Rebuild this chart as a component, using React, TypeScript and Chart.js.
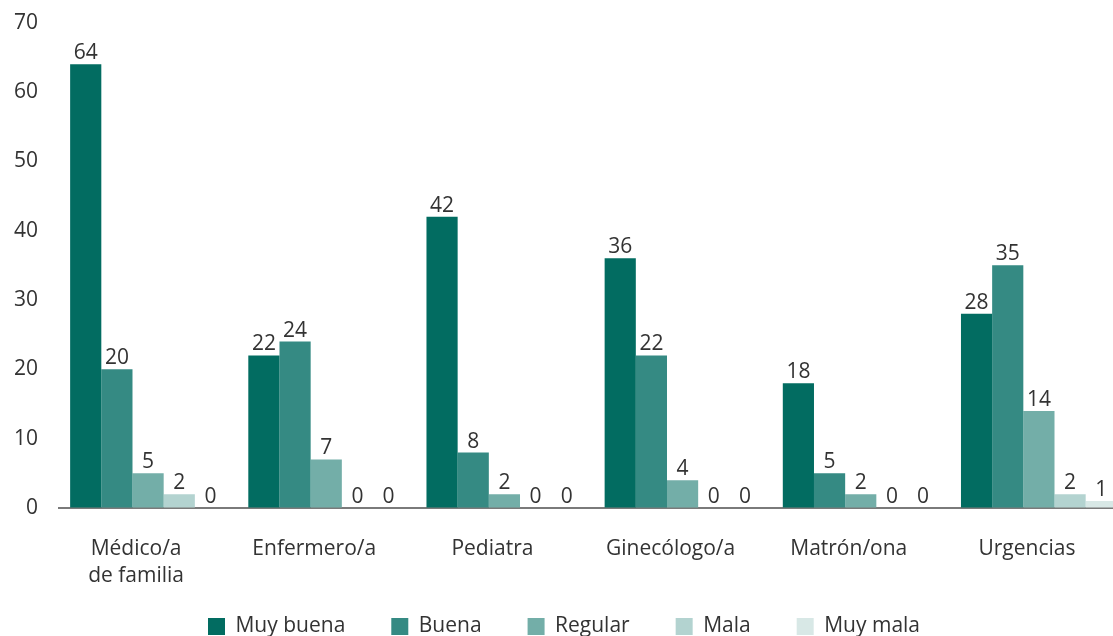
import React, { useEffect, useRef } from "react";
import { Chart, registerables } from "chart.js";

Chart.register(...registerables);

const categories: (string | string[])[] = [
  ["Médico/a", "de familia"],
  "Enfermero/a",
  "Pediatra",
  "Ginecólogo/a",
  "Matrón/ona",
  "Urgencias",
];

const seriesNames = ["Muy buena", "Buena", "Regular", "Mala", "Muy mala"];
const muyBuena = [64, 22, 42, 36, 18, 28];
const buena = [20, 24, 8, 22, 5, 35];
const regular = [5, 7, 2, 4, 2, 14];
const mala = [2, 0, 0, 0, 0, 2];
const muyMala = [0, 0, 0, 0, 0, 1];
const seriesColors = ["#026C61", "#358A83", "#73AEA8", "#B3D3D0", "#D8E8E6"];
const yTicks = [0, 10, 20, 30, 40, 50, 60, 70];

const FONT = "'Open Sans', 'Noto Sans', sans-serif";
const TEXT = "#333333";
const FS = 21;
const LEGEND_SHIFT = 28;

const valueLabels = {
  id: "valueLabels",
  afterDatasetsDraw(chart: any) {
    const ctx = chart.ctx;
    ctx.save();
    ctx.font = `${FS}px ${FONT}`;
    ctx.fillStyle = TEXT;
    ctx.textAlign = "center";
    ctx.textBaseline = "alphabetic";
    chart.data.datasets.forEach((ds: any, i: number) => {
      const meta = chart.getDatasetMeta(i);
      meta.data.forEach((el: any, j: number) => {
        ctx.fillText(String(ds.data[j]), el.x, el.y - 5);
      });
    });
    ctx.restore();
  },
};

// pull the legend up closer to the axis labels (keeps wide horizontal spacing)
const legendLift = {
  id: "legendLift",
  afterLayout(chart: any) {
    const lg = chart.legend;
    if (lg) {
      lg.top -= LEGEND_SHIFT;
      lg.bottom -= LEGEND_SHIFT;
    }
  },
};

export default function App() {
  const ref = useRef<HTMLCanvasElement>(null);
  useEffect(() => {
    if (!ref.current) return;
    const all = [muyBuena, buena, regular, mala, muyMala];
    const chart = new Chart(ref.current, {
      type: "bar",
      data: {
        labels: categories,
        datasets: all.map((d, i) => ({
          label: seriesNames[i],
          data: d,
          backgroundColor: seriesColors[i],
          borderWidth: 0,
          categoryPercentage: 0.875,
          barPercentage: 1,
        })),
      },
      options: {
        animation: false,
        responsive: true,
        maintainAspectRatio: false,
        layout: { padding: { top: 0, left: 0, right: 0, bottom: 0 } },
        plugins: {
          tooltip: { enabled: false },
          legend: {
            position: "bottom",
            labels: {
              boxWidth: 17,
              boxHeight: 17,
              padding: 46,
              color: TEXT,
              font: { family: FONT, size: FS },
            },
          },
        },
        scales: {
          x: {
            grid: { display: false, drawTicks: false },
            border: { display: true, color: "#7a7a7a", width: 2 },
            ticks: {
              color: TEXT,
              font: { family: FONT, size: FS, lineHeight: 1.3 },
              padding: 27,
              labelOffset: -12,
              maxRotation: 0,
              autoSkip: false,
            },
            afterFit: (s: any) => {
              s.height = 90;
            },
          },
          y: {
            min: 0,
            max: 70,
            grid: {
              display: true,
              drawOnChartArea: false,
              drawTicks: true,
              tickLength: 11,
              color: "rgba(0,0,0,0)",
            },
            border: { display: false },
            afterBuildTicks: (s: any) => {
              s.ticks = yTicks.map((v) => ({ value: v }));
            },
            ticks: {
              color: TEXT,
              font: { family: FONT, size: FS },
              padding: 10,
            },
            afterFit: (s: any) => {
              s.width = 59;
            },
          },
        },
      },
      plugins: [valueLabels, legendLift],
    });
    return () => chart.destroy();
  }, []);
  return (
    <div
      style={{
        position: "fixed",
        left: 0,
        top: 0,
        width: 1113,
        height: 636,
        overflow: "hidden",
        background: "#fff",
      }}
    >
      <div style={{ position: "relative", width: 1128, height: 675 }}>
        <canvas ref={ref} />
      </div>
    </div>
  );
}
